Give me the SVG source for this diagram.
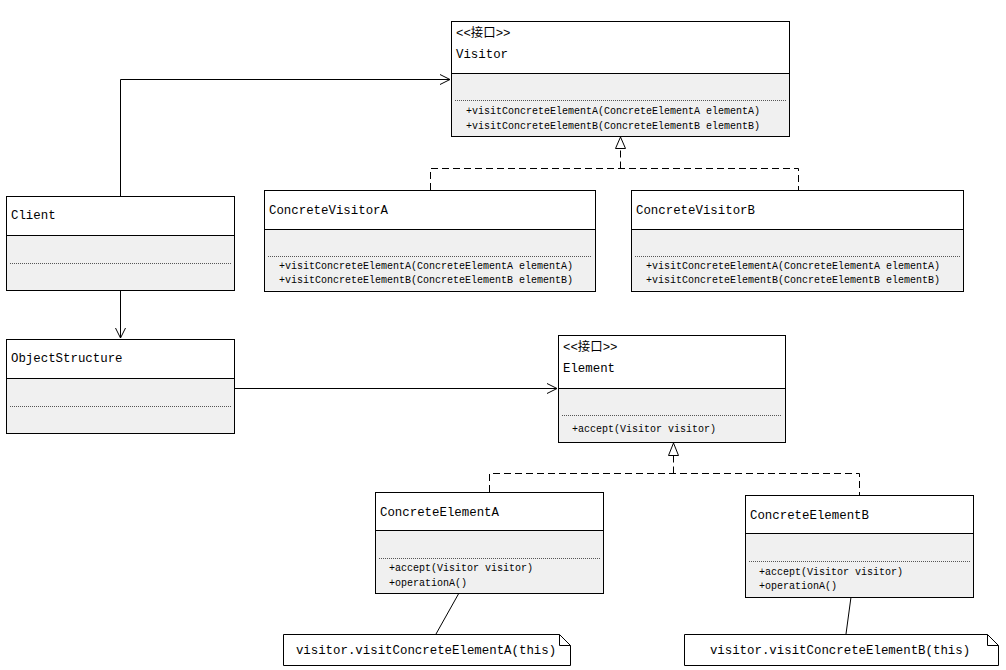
<svg xmlns="http://www.w3.org/2000/svg" width="1006" height="670" viewBox="0 0 1006 670">
<defs>
<style>
.box{fill:#fff;stroke:none}
.low{fill:#f0f0f0;stroke:none}
.frame{fill:none;stroke:#000;stroke-width:1}
.sep{stroke:#000;stroke-width:1}
.dot{stroke:#555;stroke-width:1;stroke-dasharray:1 1}
.t{font-family:"Liberation Mono","Noto Sans CJK SC",monospace;font-size:12.4px;fill:#000}
.m{font-family:"Liberation Mono","Noto Sans CJK SC",monospace;font-size:10px;fill:#000}
.line{fill:none;stroke:#000;stroke-width:1}
.dash{fill:none;stroke:#000;stroke-width:1;stroke-dasharray:7 4}
.note{fill:#fff;stroke:#000;stroke-width:1}
</style>
<marker id="open" markerWidth="12" markerHeight="12" refX="11" refY="6" orient="auto" markerUnits="userSpaceOnUse">
<path d="M1,1 L11,6 L1,11" fill="none" stroke="#000" stroke-width="1"/>
</marker>
</defs>

<g id="connectors">
<path class="line" d="M120.5,196 V79.5 H450" marker-end="url(#open)"/>
<path class="line" d="M120.5,290 V338" marker-end="url(#open)"/>
<path class="line" d="M234,388.5 H557" marker-end="url(#open)"/>
<path class="dash" d="M430.5,190 V168.5 H798.5 V190"/>
<path class="dash" d="M620.5,168.5 V148"/>
<path d="M620.5,137 L615.5,148.5 H625.5 Z" fill="#fff" stroke="#000" stroke-width="1"/>
<path class="dash" d="M489.5,492 V473.5 H859.5 V495"/>
<path class="dash" d="M673.5,473.5 V455"/>
<path d="M673.5,443 L668.5,455.5 H678.5 Z" fill="#fff" stroke="#000" stroke-width="1"/>
<path class="line" d="M459,593 L436,634"/>
<path class="line" d="M851,597 L846,634"/>
</g>

<g id="visitor">
<rect class="box" x="451.5" y="21.5" width="338" height="52"/>
<rect class="low" x="451.5" y="73.5" width="338" height="63"/>
<rect class="frame" x="451.5" y="21.5" width="338" height="115"/>
<line class="sep" x1="451.5" y1="73.5" x2="789.5" y2="73.5"/>
<line class="dot" x1="455" y1="100.5" x2="786" y2="100.5"/>
<text class="t" x="456" y="37">&lt;&lt;接口&gt;&gt;</text>
<text class="t" x="456" y="58">Visitor</text>
<text class="m" x="466" y="113.5">+visitConcreteElementA(ConcreteElementA elementA)</text>
<text class="m" x="466" y="128.5">+visitConcreteElementB(ConcreteElementB elementB)</text>
</g>

<g id="concreteVisitorA">
<rect class="box" x="264.5" y="190.5" width="331" height="39"/>
<rect class="low" x="264.5" y="229.5" width="331" height="61"/>
<rect class="frame" x="264.5" y="190.5" width="331" height="101"/>
<line class="sep" x1="264.5" y1="229.5" x2="595.5" y2="229.5"/>
<line class="dot" x1="268" y1="256.5" x2="592" y2="256.5"/>
<text class="t" x="269" y="214">ConcreteVisitorA</text>
<text class="m" x="279" y="268.5">+visitConcreteElementA(ConcreteElementA elementA)</text>
<text class="m" x="279" y="283">+visitConcreteElementB(ConcreteElementB elementB)</text>
</g>

<g id="concreteVisitorB">
<rect class="box" x="631.5" y="190.5" width="332" height="39"/>
<rect class="low" x="631.5" y="229.5" width="332" height="61"/>
<rect class="frame" x="631.5" y="190.5" width="332" height="101"/>
<line class="sep" x1="631.5" y1="229.5" x2="963.5" y2="229.5"/>
<line class="dot" x1="635" y1="256.5" x2="960" y2="256.5"/>
<text class="t" x="636" y="214">ConcreteVisitorB</text>
<text class="m" x="646" y="268.5">+visitConcreteElementA(ConcreteElementA elementA)</text>
<text class="m" x="646" y="283">+visitConcreteElementB(ConcreteElementB elementB)</text>
</g>

<g id="client">
<rect class="box" x="6.5" y="196.5" width="228" height="39"/>
<rect class="low" x="6.5" y="235.5" width="228" height="55"/>
<rect class="frame" x="6.5" y="196.5" width="228" height="94"/>
<line class="sep" x1="6.5" y1="235.5" x2="234.5" y2="235.5"/>
<line class="dot" x1="10" y1="263.5" x2="231" y2="263.5"/>
<text class="t" x="11" y="219">Client</text>
</g>

<g id="objectStructure">
<rect class="box" x="6.5" y="339.5" width="228" height="39"/>
<rect class="low" x="6.5" y="378.5" width="228" height="55"/>
<rect class="frame" x="6.5" y="339.5" width="228" height="94"/>
<line class="sep" x1="6.5" y1="378.5" x2="234.5" y2="378.5"/>
<line class="dot" x1="10" y1="406.5" x2="231" y2="406.5"/>
<text class="t" x="11" y="362">ObjectStructure</text>
</g>

<g id="element">
<rect class="box" x="558.5" y="335.5" width="227" height="53"/>
<rect class="low" x="558.5" y="388.5" width="227" height="54"/>
<rect class="frame" x="558.5" y="335.5" width="227" height="107"/>
<line class="sep" x1="558.5" y1="388.5" x2="785.5" y2="388.5"/>
<line class="dot" x1="562" y1="415.5" x2="782" y2="415.5"/>
<text class="t" x="563" y="351">&lt;&lt;接口&gt;&gt;</text>
<text class="t" x="563" y="372">Element</text>
<text class="m" x="572" y="432">+accept(Visitor visitor)</text>
</g>

<g id="concreteElementA">
<rect class="box" x="375.5" y="492.5" width="228" height="38"/>
<rect class="low" x="375.5" y="530.5" width="228" height="63"/>
<rect class="frame" x="375.5" y="492.5" width="228" height="101"/>
<line class="sep" x1="375.5" y1="530.5" x2="603.5" y2="530.5"/>
<line class="dot" x1="379" y1="558.5" x2="600" y2="558.5"/>
<text class="t" x="380" y="515.5">ConcreteElementA</text>
<text class="m" x="389" y="571">+accept(Visitor visitor)</text>
<text class="m" x="389" y="585.5">+operationA()</text>
</g>

<g id="concreteElementB">
<rect class="box" x="745.5" y="495.5" width="228" height="38"/>
<rect class="low" x="745.5" y="533.5" width="228" height="64"/>
<rect class="frame" x="745.5" y="495.5" width="228" height="102"/>
<line class="sep" x1="745.5" y1="533.5" x2="973.5" y2="533.5"/>
<line class="dot" x1="749" y1="561.5" x2="970" y2="561.5"/>
<text class="t" x="750" y="519">ConcreteElementB</text>
<text class="m" x="759" y="575">+accept(Visitor visitor)</text>
<text class="m" x="759" y="589">+operationA()</text>
</g>

<g id="noteA">
<path class="note" d="M283.5,634.5 H559.5 L570.5,645.5 V665.5 H283.5 Z"/>
<path class="line" d="M559.5,634.5 V645.5 H570.5"/>
<text class="t" x="426" y="654" text-anchor="middle">visitor.visitConcreteElementA(this)</text>
</g>

<g id="noteB">
<path class="note" d="M684.5,634.5 H987.5 L998.5,645.5 V665.5 H684.5 Z"/>
<path class="line" d="M987.5,634.5 V645.5 H998.5"/>
<text class="t" x="840" y="654" text-anchor="middle">visitor.visitConcreteElementB(this)</text>
</g>
</svg>
